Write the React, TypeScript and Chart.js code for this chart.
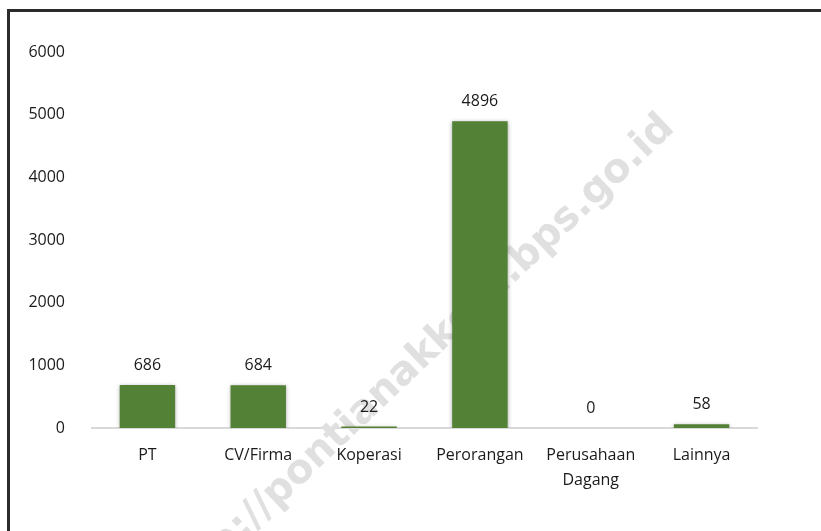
import React, { useEffect, useRef } from "react";
import { Chart, registerables } from "chart.js";

Chart.register(...registerables);

const categories: (string | string[])[] = [
  "PT",
  "CV/Firma",
  "Koperasi",
  "Perorangan",
  ["Perusahaan", "Dagang"],
  "Lainnya",
];
const values: number[] = [686, 684, 22, 4896, 0, 58];
const yTicks = { min: 0, max: 6000, step: 1000 };
const watermarkText = "http://pontianakkota.bps.go.id";

const FONT = '"Open Sans", sans-serif';
const TEXT_COLOR = "#1a1a1a";
const BAR_COLOR = "#538135";

const watermarkPlugin = {
  id: "watermark",
  beforeDatasetsDraw(chart: any) {
    const ctx = chart.ctx;
    ctx.save();
    ctx.translate(418, 360);
    ctx.rotate((-43.5 * Math.PI) / 180);
    ctx.font = `bold 40px "DejaVu Sans", sans-serif`;
    ctx.fillStyle = "#e0e0e0";
    ctx.textAlign = "center";
    ctx.textBaseline = "middle";
    ctx.fillText(watermarkText, 0, 0);
    ctx.restore();
  },
};

const shadowPlugin = {
  id: "barShadow",
  beforeDatasetDraw(chart: any) {
    const ctx = chart.ctx;
    ctx.save();
    ctx.shadowColor = "rgba(0,0,0,0.35)";
    ctx.shadowBlur = 4;
    ctx.shadowOffsetX = 0;
    ctx.shadowOffsetY = 1;
  },
  afterDatasetDraw(chart: any) {
    chart.ctx.restore();
  },
};

const valueLabelPlugin = {
  id: "valueLabels",
  afterDatasetsDraw(chart: any) {
    const ctx = chart.ctx;
    const meta = chart.getDatasetMeta(0);
    ctx.save();
    ctx.font = `16px ${FONT}`;
    ctx.fillStyle = TEXT_COLOR;
    ctx.textAlign = "center";
    ctx.textBaseline = "alphabetic";
    meta.data.forEach((el: any, i: number) => {
      ctx.fillText(String(values[i]), el.x, el.y - 15);
    });
    ctx.restore();
  },
};

export default function App() {
  const ref = useRef<HTMLCanvasElement>(null);

  useEffect(() => {
    if (!ref.current) return;
    const chart = new Chart(ref.current, {
      type: "bar",
      data: {
        labels: categories as any,
        datasets: [
          {
            data: values,
            backgroundColor: BAR_COLOR,
            borderWidth: 0,
            barPercentage: 0.5,
            categoryPercentage: 1,
          },
        ],
      },
      options: {
        animation: false,
        responsive: false,
        layout: { padding: { left: 0, right: 64, top: 52, bottom: 0 } },
        plugins: {
          legend: { display: false },
          tooltip: { enabled: false },
        },
        scales: {
          x: {
            z: 1,
            grid: { display: false },
            border: { display: true, color: "#d9d9d9", width: 2 },
            ticks: {
              color: TEXT_COLOR,
              font: { family: FONT, size: 16, lineHeight: 1.55 },
              padding: 7,
              maxRotation: 0,
              autoSkip: false,
            },
            afterFit(scale: any) {
              scale.height = 531 - 428;
            },
          },
          y: {
            min: yTicks.min,
            max: yTicks.max,
            grid: { display: false },
            border: { display: false },
            ticks: {
              stepSize: yTicks.step,
              color: TEXT_COLOR,
              font: { family: FONT, size: 16 },
              padding: 19,
              callback: (v: any) => String(v),
            },
            afterFit(scale: any) {
              scale.width = 92;
            },
          },
        },
      },
      plugins: [watermarkPlugin, shadowPlugin, valueLabelPlugin],
    });
    return () => chart.destroy();
  }, []);

  return (
    <div
      style={{
        position: "absolute",
        left: 0,
        top: 0,
        width: 821,
        height: 531,
        background: "#fff",
        overflow: "hidden",
      }}
    >
      <div
        style={{
          position: "absolute",
          left: 7,
          top: 9,
          width: 900,
          height: 700,
          borderLeft: "3px solid #2b2b2b",
          borderTop: "3px solid #2b2b2b",
        }}
      />
      <canvas
        ref={ref}
        width={821}
        height={531}
        style={{ position: "absolute", left: 0, top: 0, display: "block" }}
      />
    </div>
  );
}
